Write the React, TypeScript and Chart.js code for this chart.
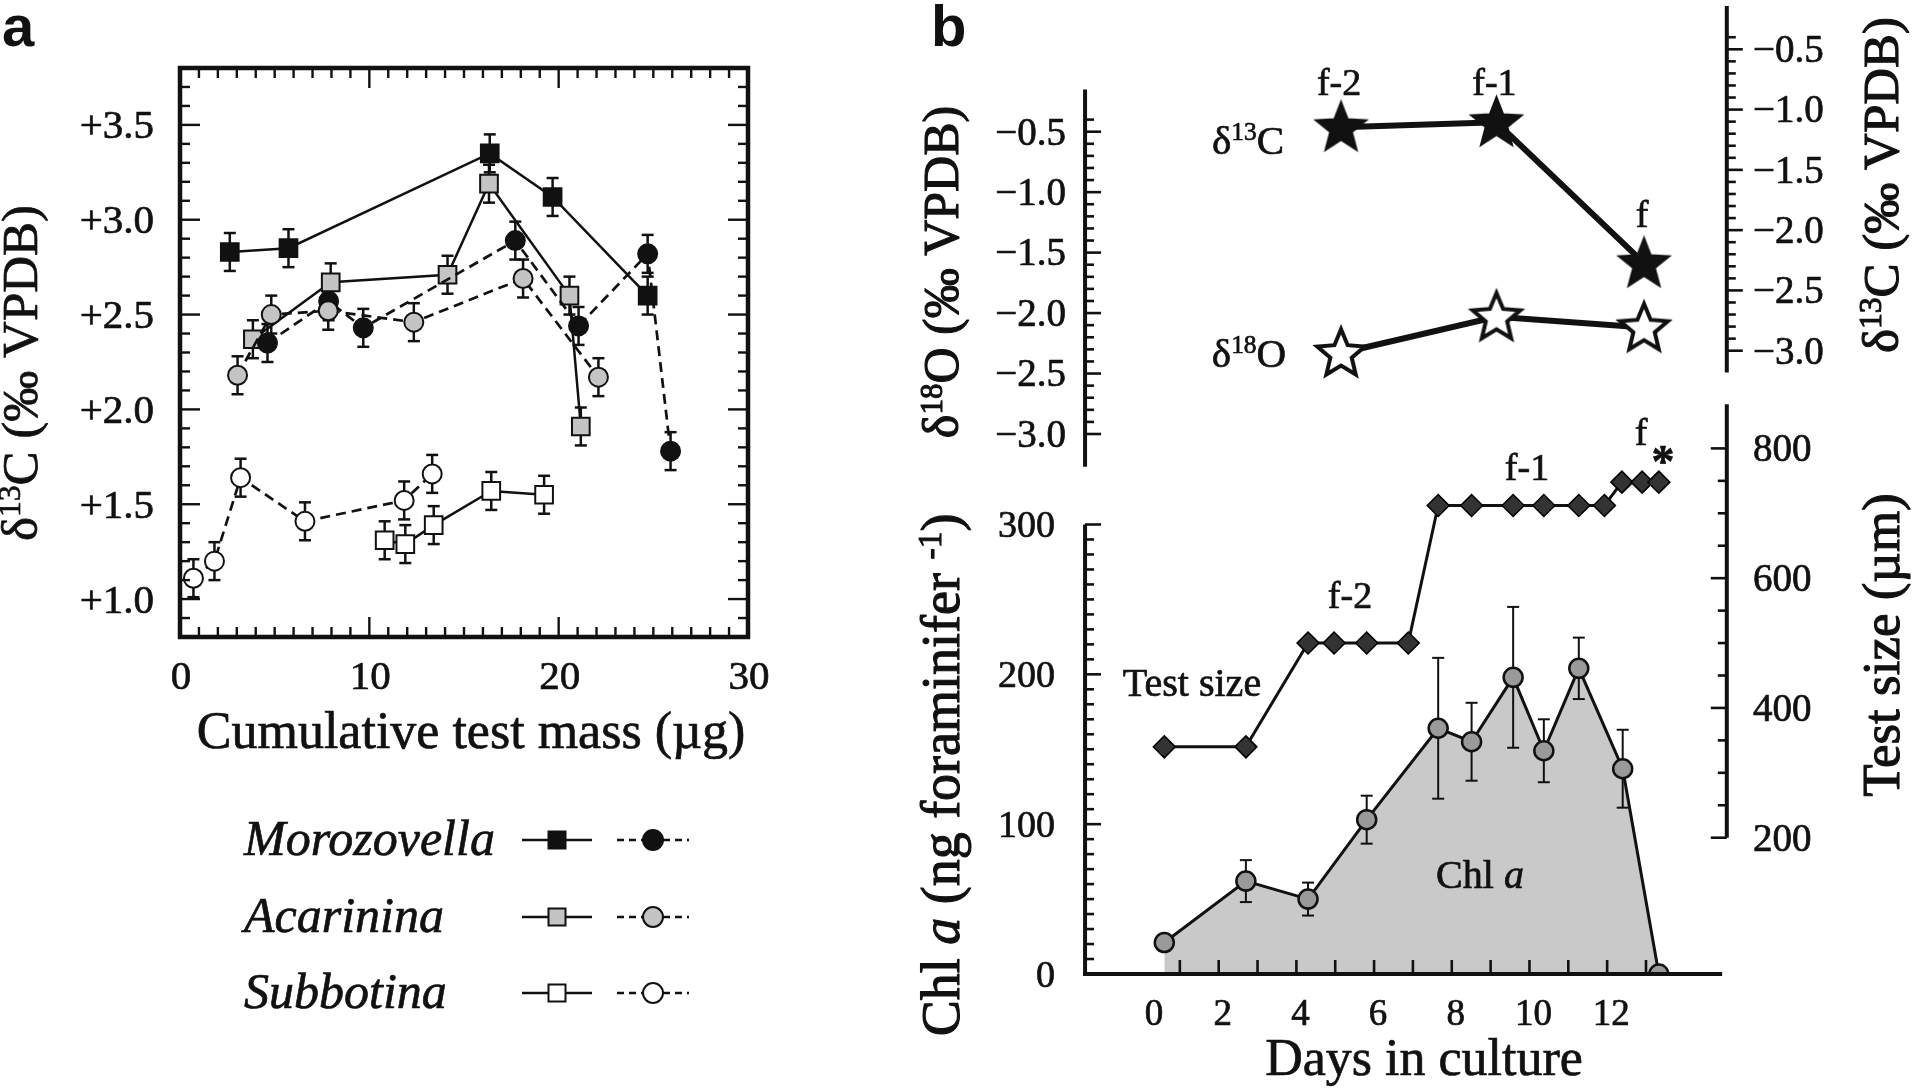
import React, { useEffect, useRef } from 'react';
import { Chart, registerables } from 'chart.js';

Chart.register(...registerables);

const W = 1914;
const H = 1090;
const SERIF = '"Liberation Serif", "Times New Roman", serif';
const SANS = '"Liberation Sans", Arial, sans-serif';
const INK = '#111111';

/* ---------------- Panel a: δ13C vs cumulative test mass ---------------- */
// Morozovella, squares (solid line)
const moroSqMass = [2.63, 5.73, 16.36, 19.68, 24.7];
const moroSqD13C = [2.83, 2.85, 3.35, 3.12, 2.6];
const moroSqErr = [0.1, 0.1, 0.1, 0.1, 0.1];
// Morozovella, circles (dashed line)
const moroCiMass = [4.62, 7.85, 9.68, 17.71, 21.05, 24.7, 25.91];
const moroCiD13C = [2.35, 2.57, 2.43, 2.89, 2.44, 2.82, 1.78];
const moroCiErr = [0.1, 0.1, 0.1, 0.1, 0.1, 0.1, 0.1];
// Acarinina, squares
const acaSqMass = [3.85, 7.96, 14.13, 16.32, 20.57, 21.17];
const acaSqD13C = [2.37, 2.67, 2.71, 3.19, 2.6, 1.91];
const acaSqErr = [0.1, 0.1, 0.1, 0.1, 0.1, 0.1];
// Acarinina, circles
const acaCiMass = [3.04, 4.82, 7.83, 12.35, 18.12, 22.1];
const acaCiD13C = [2.18, 2.5, 2.52, 2.46, 2.69, 2.17];
const acaCiErr = [0.1, 0.1, 0.1, 0.1, 0.1, 0.1];
// Subbotina, squares
const subSqMass = [10.81, 11.9, 13.4, 16.44, 19.23];
const subSqD13C = [1.31, 1.29, 1.39, 1.57, 1.55];
const subSqErr = [0.1, 0.1, 0.1, 0.1, 0.1];
// Subbotina, circles
const subCiMass = [0.71, 1.82, 3.2, 6.6, 11.84, 13.32];
const subCiD13C = [1.11, 1.2, 1.64, 1.41, 1.52, 1.66];
const subCiErr = [0.1, 0.1, 0.1, 0.1, 0.1, 0.1];

const legendNames = ['Morozovella', 'Acarinina', 'Subbotina'];
const legendFills = ['#111111', '#c4c4c4', '#ffffff'];

const aXTicks = [0, 10, 20, 30];
const aXTickLabels = ['0', '10', '20', '30'];
const aYTicks = [1.0, 1.5, 2.0, 2.5, 3.0, 3.5];
const aYTickLabels = ['+1.0', '+1.5', '+2.0', '+2.5', '+3.0', '+3.5'];

/* ---------------- Panel b: culture experiment ---------------- */
const chlDays = [0.6, 2.7, 4.3, 5.81, 7.65, 8.51, 9.58, 10.37, 11.27, 12.4, 13.33];
const chlValues = [21, 62, 50, 103, 164, 155, 198, 149, 204, 137, 0];
const chlErr = [0, 14, 11, 16, 47, 26, 47, 21, 20.5, 26, 0];

const sizeDays = [0.6, 2.7, 4.3, 4.97, 5.81, 6.88, 7.65, 8.51, 9.58, 10.37, 11.27, 11.93, 12.38, 12.9, 13.33];
const sizeValues = [340, 340, 500, 500, 500, 500, 712, 712, 712, 712, 712, 712, 748, 748, 748];

const chamberDays = [5.15, 9.15, 12.95];
const chamberLabels = ['f-2', 'f-1', 'f'];
const chamberD13C = [-1.146, -1.105, -2.274];
const chamberD18O = [-2.33, -2.03, -2.12];

const dayTicks = [1, 2, 3, 4, 5, 6, 7, 8, 9, 10, 11, 12, 13];
const dayLabelValues = [0, 2, 4, 6, 8, 10, 12];
const dayLabels = ['0', '2', '4', '6', '8', '10', '12'];
const deltaTicks = [-0.5, -1.0, -1.5, -2.0, -2.5, -3.0];
const deltaTickLabels = ['\u22120.5', '\u22121.0', '\u22121.5', '\u22122.0', '\u22122.5', '\u22123.0'];
const chlTicks = [0, 100, 200, 300];
const chlTickLabels = ['0', '100', '200', '300'];
const sizeTicks = [200, 400, 600, 800];
const sizeTickLabels = ['200', '400', '600', '800'];

/* ---------------- helpers ---------------- */
function hRange(v1: number, p1: number, v2: number, p2: number) {
  const k = (p2 - p1) / (v2 - v1);
  const min = v1 - p1 / k;
  return { min, max: min + W / k };
}
function vRange(v1: number, p1: number, v2: number, p2: number) {
  const k = (p1 - p2) / (v2 - v1);
  const max = v1 + p1 / k;
  return { min: max - H / k, max };
}
const pts = (xs: number[], ys: number[]) => xs.map((x, i) => ({ x, y: ys[i] }));

type Seg = { t: string; sup?: boolean; it?: boolean; bold?: boolean };
function fontFor(s: Seg, fs: number, fam: string) {
  const size = s.sup ? fs * 0.62 : fs;
  return `${s.it ? 'italic ' : ''}${s.bold ? 'bold ' : ''}${size}px ${fam}`;
}
function drawRich(
  ctx: CanvasRenderingContext2D,
  segs: Seg[],
  x: number,
  y: number,
  fs: number,
  fam: string,
  opts: { rot?: number; align?: string; base?: number; heavy?: number } = {}
) {
  ctx.save();
  ctx.translate(x, y);
  if (opts.rot) ctx.rotate(opts.rot);
  let w = 0;
  const ws = segs.map((s) => {
    ctx.font = fontFor(s, fs, fam);
    const m = ctx.measureText(s.t).width;
    w += m;
    return m;
  });
  const align = opts.align || 'center';
  let cx = align === 'center' ? -w / 2 : align === 'right' ? -w : 0;
  const by = (opts.base ?? 0.33) * fs;
  ctx.textAlign = 'left';
  ctx.textBaseline = 'alphabetic';
  ctx.fillStyle = INK;
  ctx.strokeStyle = INK;
  ctx.lineWidth = opts.heavy ?? 0.7;
  ctx.lineJoin = 'round';
  segs.forEach((s, i) => {
    ctx.font = fontFor(s, fs, fam);
    const yy = by - (s.sup ? fs * 0.33 : 0);
    ctx.fillText(s.t, cx, yy);
    if (ctx.lineWidth > 0) ctx.strokeText(s.t, cx, yy);
    cx += ws[i];
  });
  ctx.restore();
}
function seg(ctx: CanvasRenderingContext2D, x1: number, y1: number, x2: number, y2: number) {
  ctx.beginPath();
  ctx.moveTo(x1, y1);
  ctx.lineTo(x2, y2);
  ctx.stroke();
}
function makeStar(R: number, ratio: number, fill: string, lw: number) {
  const c = document.createElement('canvas');
  const S = Math.ceil(2 * R + lw + 6);
  c.width = S;
  c.height = S;
  const g = c.getContext('2d')!;
  g.translate(S / 2, S / 2 + R * 0.05);
  g.beginPath();
  for (let i = 0; i < 10; i++) {
    const a = -Math.PI / 2 + (i * Math.PI) / 5;
    const r = i % 2 ? R * ratio : R;
    if (i === 0) g.moveTo(Math.cos(a) * r, Math.sin(a) * r);
    else g.lineTo(Math.cos(a) * r, Math.sin(a) * r);
  }
  g.closePath();
  g.fillStyle = fill;
  g.fill();
  g.lineJoin = 'miter';
  g.lineWidth = lw;
  g.strokeStyle = INK;
  g.stroke();
  return c;
}

const aErrorSeries: [number[], number[], number[]][] = [
  [moroSqMass, moroSqD13C, moroSqErr],
  [moroCiMass, moroCiD13C, moroCiErr],
  [acaSqMass, acaSqD13C, acaSqErr],
  [acaCiMass, acaCiD13C, acaCiErr],
  [subSqMass, subSqD13C, subSqErr],
  [subCiMass, subCiD13C, subCiErr],
];

const figurePlugin = {
  id: 'figure',
  beforeDatasetsDraw(chart: any) {
    const ctx: CanvasRenderingContext2D = chart.ctx;
    const s = chart.scales;
    ctx.save();
    ctx.strokeStyle = INK;
    ctx.lineWidth = 2.5;
    for (const [xs, ys, es] of aErrorSeries) {
      xs.forEach((x, i) => {
        const px = s.xa.getPixelForValue(x);
        const y1 = s.ya.getPixelForValue(ys[i] - es[i]);
        const y2 = s.ya.getPixelForValue(ys[i] + es[i]);
        seg(ctx, px, y1, px, y2);
        seg(ctx, px - 6, y1, px + 6, y1);
        seg(ctx, px - 6, y2, px + 6, y2);
      });
    }
    ctx.lineWidth = 2;
    chlDays.forEach((d, i) => {
      if (!chlErr[i]) return;
      const px = s.xb.getPixelForValue(d);
      const y1 = s.yChl.getPixelForValue(chlValues[i] - chlErr[i]);
      const y2 = s.yChl.getPixelForValue(chlValues[i] + chlErr[i]);
      seg(ctx, px, y1, px, y2);
      seg(ctx, px - 6, y1, px + 6, y1);
      seg(ctx, px - 6, y2, px + 6, y2);
    });
    ctx.restore();
  },
  afterDatasetsDraw(chart: any) {
    const ctx: CanvasRenderingContext2D = chart.ctx;
    const s = chart.scales;
    const P = (id: string, v: number) => s[id].getPixelForValue(v);
    ctx.save();
    ctx.strokeStyle = INK;
    ctx.fillStyle = INK;
    ctx.lineCap = 'butt';

    /* ----- panel a frame + ticks ----- */
    const L = P('xa', 0), R = P('xa', 30), T = P('ya', 3.8), B = P('ya', 0.8);
    ctx.lineWidth = 2.4;
    for (let m = 1; m < 30; m++) {
      const len = m % 10 === 0 ? 20 : 10;
      const px = P('xa', m);
      seg(ctx, px, B, px, B - len);
      seg(ctx, px, T, px, T + len);
    }
    for (let k = 9; k <= 37; k++) {
      const len = k % 5 === 0 ? 20 : 10;
      const py = P('ya', k / 10);
      seg(ctx, L, py, L + len, py);
      seg(ctx, R, py, R - len, py);
    }
    ctx.lineWidth = 4.5;
    ctx.lineJoin = 'miter';
    ctx.strokeRect(L, T, R - L, B - T);
    aYTicks.forEach((v, i) => drawRich(ctx, [{ t: aYTickLabels[i] }], L - 26, P('ya', v), 41, SERIF, { align: 'right' }));
    aXTicks.forEach((v, i) => drawRich(ctx, [{ t: aXTickLabels[i] }], P('xa', v) + 1, 675, 41, SERIF));
    drawRich(ctx, [{ t: 'Cumulative test mass (\u00b5g)' }], 471, 731, 52, SERIF);
    drawRich(
      ctx,
      [{ t: '\u03b4' }, { t: '13', sup: true }, { t: 'C (\u2030 VPDB)' }],
      25, 373, 51, SERIF, { rot: -Math.PI / 2, base: 0.24 }
    );
    ctx.font = `bold 58px ${SANS}`;
    ctx.textAlign = 'left';
    ctx.textBaseline = 'alphabetic';
    ctx.fillStyle = INK;
    ctx.fillText('a', 2, 46);
    ctx.fillText('b', 931, 46);

    /* ----- panel a legend ----- */
    const rows = [840, 917, 993];
    legendNames.forEach((name, i) => {
      const y = rows[i];
      drawRich(ctx, [{ t: name, it: true }], 244, y - 2, 50, SERIF, { align: 'left' });
      ctx.setLineDash([]);
      ctx.strokeStyle = INK;
      ctx.lineWidth = 2.5;
      seg(ctx, 522, y, 592, y);
      ctx.fillStyle = legendFills[i];
      ctx.fillRect(548.5, y - 8.5, 17, 17);
      ctx.lineWidth = 2;
      ctx.strokeRect(548.5, y - 8.5, 17, 17);
      ctx.setLineDash([7, 5]);
      ctx.lineWidth = 2.5;
      seg(ctx, 617, y, 643, y);
      seg(ctx, 663, y, 689, y);
      ctx.setLineDash([]);
      ctx.beginPath();
      ctx.arc(653, y, 10, 0, Math.PI * 2);
      ctx.fill();
      ctx.lineWidth = 2;
      ctx.stroke();
      ctx.fillStyle = INK;
    });

    /* ----- panel b axes ----- */
    const bxL = P('xb', -1.44);
    const bxR = P('xb', 15.08);
    const by0 = P('yChl', 0);
    ctx.strokeStyle = INK;
    ctx.lineWidth = 4;
    seg(ctx, bxL, P('yO', -0.15), bxL, P('yO', -3.27));
    seg(ctx, bxL, by0 + 2, bxL, P('yChl', 300));
    seg(ctx, bxL - 2, by0, P('xb', 14.96), by0);
    seg(ctx, bxR, P('yC', -0.14), bxR, P('yC', -3.18));
    seg(ctx, bxR, P('yTS', 200), bxR, P('yTS', 868));
    ctx.lineWidth = 2.6;
    for (let k = 4; k <= 30; k++) {
      const len = k % 5 === 0 ? 16 : 9;
      const pyO = P('yO', -k / 10);
      seg(ctx, bxL, pyO, bxL + len, pyO);
      const pyC = P('yC', -k / 10);
      seg(ctx, bxR, pyC, bxR + len, pyC);
    }
    for (let v = 10; v <= 300; v += 10) {
      const len = v % 100 === 0 ? 16 : 9;
      const py = P('yChl', v);
      seg(ctx, bxL, py, bxL + len, py);
    }
    for (let v = 200; v <= 800; v += 50) {
      const len = v % 200 === 0 ? 16 : 9;
      const py = P('yTS', v);
      seg(ctx, bxR, py, bxR - len, py);
    }
    dayTicks.forEach((d) => {
      const px = P('xb', d);
      seg(ctx, px, by0, px, by0 - 14);
    });

    deltaTicks.forEach((v, i) => {
      drawRich(ctx, [{ t: deltaTickLabels[i] }], 1066, P('yO', v), 39, SERIF, { align: 'right' });
      drawRich(ctx, [{ t: deltaTickLabels[i] }], 1753, P('yC', v), 39, SERIF, { align: 'left' });
    });
    chlTicks.forEach((v, i) => drawRich(ctx, [{ t: chlTickLabels[i] }], 1055, P('yChl', v), 38, SERIF, { align: 'right' }));
    sizeTicks.forEach((v, i) => drawRich(ctx, [{ t: sizeTickLabels[i] }], 1753, P('yTS', v), 39, SERIF, { align: 'left' }));
    dayLabelValues.forEach((v, i) => drawRich(ctx, [{ t: dayLabels[i] }], P('xb', v) + (v === 0 ? 13 : 4), 1013, 37, SERIF));

    drawRich(ctx, [{ t: 'Days in culture' }], 1424, 1058, 52, SERIF);
    drawRich(ctx, [{ t: '\u03b4' }, { t: '18', sup: true }, { t: 'O (\u2030 VPDB)' }], 946, 272, 50, SERIF, { rot: -Math.PI / 2, base: 0.24, heavy: 1.1 });
    drawRich(
      ctx,
      [{ t: 'Chl ' }, { t: 'a', it: true }, { t: ' (ng foraminifer ' }, { t: '-1', sup: true }, { t: ')' }],
      946, 775, 54, SERIF, { rot: -Math.PI / 2, base: 0.24, heavy: 1.1 }
    );
    drawRich(ctx, [{ t: '\u03b4' }, { t: '13', sup: true }, { t: 'C (\u2030 VPDB)' }], 1886, 185, 51, SERIF, { rot: -Math.PI / 2, base: 0.24, heavy: 1.1 });
    drawRich(ctx, [{ t: 'Test size (\u00b5m)' }], 1886, 645, 53, SERIF, { rot: -Math.PI / 2, base: 0.24, heavy: 1.1 });

    /* ----- panel b annotations ----- */
    drawRich(ctx, [{ t: '\u03b4' }, { t: '13', sup: true }, { t: 'C' }], 1248, 140, 41, SERIF);
    drawRich(ctx, [{ t: '\u03b4' }, { t: '18', sup: true }, { t: 'O' }], 1249, 353, 41, SERIF);
    chamberDays.forEach((d, i) => {
      const y = i < 2 ? 82.5 : 214.5;
      drawRich(ctx, [{ t: chamberLabels[i] }], P('xb', d) - 2, y, 38, SERIF);
    });
    drawRich(ctx, [{ t: 'f-2' }], 1350, 595.5, 38, SERIF);
    drawRich(ctx, [{ t: 'f-1' }], 1527, 467.5, 38, SERIF);
    drawRich(ctx, [{ t: 'f' }], 1641, 432.5, 38, SERIF);
    drawRich(ctx, [{ t: '*', bold: true }], 1663, 462, 46, SERIF);
    drawRich(ctx, [{ t: 'Test size' }], 1192, 683, 40, SERIF);
    drawRich(ctx, [{ t: 'Chl ' }, { t: 'a', it: true }], 1480, 875, 40, SERIF);

    ctx.restore();
  },
};

export default function App() {
  const ref = useRef<HTMLCanvasElement>(null);
  useEffect(() => {
    const filledStar = makeStar(26.5, 0.43, INK, 2);
    const openStar = makeStar(25, 0.45, '#ffffff', 4);

    const aSeries = (xs: number[], ys: number[], style: string, fill: string, dashed: boolean) => ({
      data: pts(xs, ys),
      xAxisID: 'xa',
      yAxisID: 'ya',
      borderColor: INK,
      borderWidth: dashed ? 2.7 : 2.5,
      borderDash: dashed ? [10, 6] : [],
      pointStyle: style,
      pointRadius: style === 'rect' ? 12.5 : 9.5,
      pointBackgroundColor: fill,
      pointBorderColor: INK,
      pointBorderWidth: 2,
      fill: false,
    });

    const datasets: any[] = [
      aSeries(acaCiMass, acaCiD13C, 'circle', '#c4c4c4', true),
      aSeries(moroCiMass, moroCiD13C, 'circle', '#111111', true),
      aSeries(acaSqMass, acaSqD13C, 'rect', '#c4c4c4', false),
      aSeries(moroSqMass, moroSqD13C, 'rect', '#111111', false),
      aSeries(subCiMass, subCiD13C, 'circle', '#ffffff', true),
      aSeries(subSqMass, subSqD13C, 'rect', '#ffffff', false),
      {
        data: pts(sizeDays, sizeValues),
        xAxisID: 'xb',
        yAxisID: 'yTS',
        borderColor: INK,
        borderWidth: 3,
        pointStyle: 'rectRot',
        pointRadius: 11,
        pointBackgroundColor: '#333333',
        pointBorderColor: '#000000',
        pointBorderWidth: 1.5,
        fill: false,
      },
      {
        data: pts(chlDays, chlValues),
        xAxisID: 'xb',
        yAxisID: 'yChl',
        borderColor: INK,
        borderWidth: 3,
        backgroundColor: '#c9c9c9',
        fill: 'origin',
        pointStyle: 'circle',
        pointRadius: 9.5,
        pointBackgroundColor: '#9a9a9a',
        pointBorderColor: INK,
        pointBorderWidth: 2.5,
        clip: { left: 0, top: 0, right: 0, bottom: -(H - 975) },
      },
      {
        data: pts(chamberDays, chamberD13C),
        xAxisID: 'xb',
        yAxisID: 'yC',
        borderColor: INK,
        borderWidth: 6,
        pointStyle: filledStar,
        pointRadius: 10,
        fill: false,
      },
      {
        data: pts(chamberDays, chamberD18O),
        xAxisID: 'xb',
        yAxisID: 'yO',
        borderColor: INK,
        borderWidth: 6,
        pointStyle: openStar,
        pointRadius: 10,
        fill: false,
      },
    ];

    const hidden = { display: false, type: 'linear' };
    const chart = new Chart(ref.current!, {
      type: 'line',
      data: { datasets },
      options: {
        responsive: false,
        animation: false,
        events: [],
        layout: { padding: 0, autoPadding: false },
        elements: { line: { tension: 0 } },
        plugins: {
          legend: { display: false },
          tooltip: { enabled: false },
          title: { display: false },
          filler: { drawTime: 'beforeDraw' },
        },
        scales: {
          xa: { ...hidden, axis: 'x', position: 'bottom', ...hRange(0, 180, 30, 748) },
          ya: { ...hidden, axis: 'y', position: 'left', ...vRange(0.8, 637, 3.8, 68) },
          xb: { ...hidden, axis: 'x', position: 'bottom', ...hRange(0, 1141, 13, 1646) },
          yO: { ...hidden, axis: 'y', position: 'left', ...vRange(-3.0, 434, -0.5, 131.7) },
          yC: { ...hidden, axis: 'y', position: 'right', ...vRange(-3.0, 350.7, -0.5, 49.3) },
          yChl: { ...hidden, axis: 'y', position: 'left', ...vRange(0, 974, 300, 524.5) },
          yTS: { ...hidden, axis: 'y', position: 'right', ...vRange(200, 837.7, 800, 448.4) },
        },
      } as any,
      plugins: [figurePlugin as any],
    });
    return () => chart.destroy();
  }, []);

  return (
    <div style={{ position: 'absolute', left: 0, top: 0, width: W, height: H, background: '#ffffff' }}>
      <canvas ref={ref} width={W} height={H} style={{ display: 'block', width: W, height: H }} />
    </div>
  );
}
